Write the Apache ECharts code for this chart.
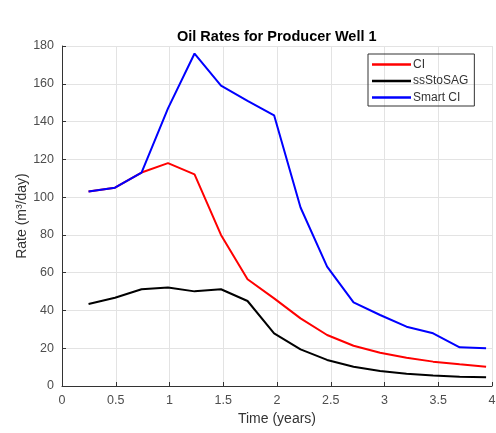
<!DOCTYPE html>
<html><head><meta charset="utf-8">
<script src="https://cdn.jsdelivr.net/npm/echarts@6/dist/echarts.min.js"></script>
<style>html,body{margin:0;padding:0;background:#fff}#c{width:496px;height:433px}</style>
</head><body><div id="c"></div>
<script>
const timeYears = [0.247,0.493,0.740,0.986,1.233,1.479,1.726,1.973,2.219,2.466,2.712,2.959,3.205,3.452,3.699,3.945];
const ciRates = [103,105,113,118,112,80,56.5,46.4,35.8,27,21.3,17.6,15,12.9,11.5,10.2];
const ssStoSAGRates = [43.4,46.7,51.2,52.2,50.1,51.2,45,27.9,19.4,13.8,10.2,7.9,6.5,5.6,4.9,4.6];
const smartCiRates = [103,105,113,147,176,159,151,143.3,94.5,63.2,44.3,37.6,31.4,27.9,20.5,20];
const seriesNames = ['CI','ssStoSAG','Smart CI'];
const seriesColors = ['#ff0000','#000000','#0000ff'];

const toPairs = arr => timeYears.map((t,i)=>[t,arr[i]]);
const chart = echarts.init(document.getElementById('c'));
const font = 'Liberation Sans, Arial, Helvetica, sans-serif';
chart.setOption({
  animation:false,
  title:{text:'Oil Rates for Producer Well 1',left:172,top:24,
    textStyle:{fontFamily:font,fontSize:14.5,fontWeight:'bold',color:'#000'}},
  grid:{left:62,right:4,top:46,bottom:47,containLabel:false,outerBoundsMode:'none',show:false},
  legend:{orient:'vertical',left:368,top:54,width:106,
    borderColor:'#333',borderWidth:1,padding:[4,6,2,4],itemGap:3.5,
    itemWidth:39,itemHeight:2.5,icon:'rect',
    textStyle:{fontFamily:font,fontSize:12,lineHeight:13,color:'#333',padding:[0,0,0,-3]},
    data:seriesNames},
  xAxis:{type:'value',min:0,max:4,interval:0.5,
    name:'Time (years)',nameLocation:'middle',nameGap:26,nameMoveOverlap:false,
    nameTextStyle:{fontFamily:font,fontSize:14,color:'#333'},
    axisLine:{show:true,onZero:false,lineStyle:{color:'#333',width:1}},
    axisTick:{show:true,inside:true,length:4,lineStyle:{color:'#333'}},
    axisLabel:{fontFamily:font,fontSize:12.5,color:'#4d4d4d',margin:8},
    splitLine:{show:true,lineStyle:{color:'#e3e3e3',width:1}}},
  yAxis:{type:'value',min:0,max:180,interval:20,
    name:'Rate (m³/day)',nameLocation:'middle',nameGap:33,nameMoveOverlap:false,
    nameTextStyle:{fontFamily:font,fontSize:14,color:'#333'},
    axisLine:{show:true,onZero:false,lineStyle:{color:'#333',width:1}},
    axisTick:{show:true,inside:true,length:4,lineStyle:{color:'#333'}},
    axisLabel:{fontFamily:font,fontSize:12.5,color:'#4d4d4d',margin:8},
    splitLine:{show:true,lineStyle:{color:'#e3e3e3',width:1}}},
  series:[ciRates,ssStoSAGRates,smartCiRates].map((d,i)=>({
    name:seriesNames[i],type:'line',data:toPairs(d),showSymbol:false,symbol:'none',
    color:seriesColors[i],lineStyle:{color:seriesColors[i],width:2},z:[2,1,3][i]
  }))
});
</script></body></html>
